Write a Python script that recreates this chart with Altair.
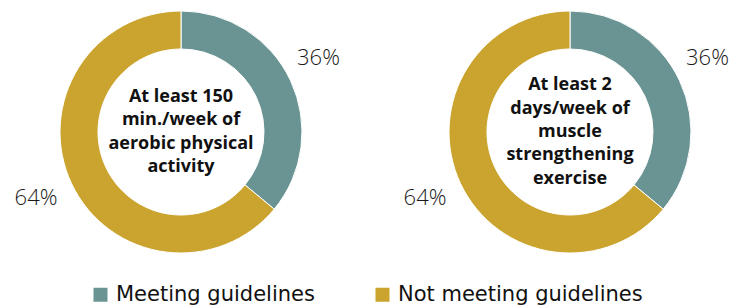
import altair as alt
import pandas as pd

categories = ["Meeting guidelines", "Not meeting guidelines"]
aerobic_values = [36, 64]
muscle_values = [36, 64]
panels = ["aerobic", "muscle"]
center_labels = [
    "At least 150\nmin./week of\naerobic physical\nactivity",
    "At least 2\ndays/week of\nmuscle\nstrengthening\nexercise",
]
colors = ["#6a9493", "#caa42e"]

rows = []
for panel, vals in zip(panels, [aerobic_values, muscle_values]):
    for i, (c, v) in enumerate(zip(categories, vals)):
        rows.append({"panel": panel, "category": c, "value": v, "order": i, "label": f"{v}%"})
df = pd.DataFrame(rows)
centers_df = pd.DataFrame({"panel": panels, "text": center_labels})

centers = {"aerobic": (173, 124), "muscle": (562, 124)}
LINE_H = 23.3
label_shift = {0: (-5.5, -7), 1: (-2, -1.5)}

color = alt.Color(
    "category:N",
    scale=alt.Scale(domain=categories, range=colors),
    legend=alt.Legend(
        title=None,
        orient="none",
        legendX=82,
        legendY=276,
        direction="horizontal",
        symbolType="square",
        symbolSize=196,
        symbolStrokeWidth=0,
        symbolOpacity=1,
        labelFontSize=21,
        labelFont="DejaVu Sans",
        labelColor="#111111",
        labelOffset=5,
        labelLimit=400,
        columnPadding=57,
        padding=0,
    ),
)

layers = []
for p, txt in zip(panels, center_labels):
    cx, cy = centers[p]
    n_lines = txt.count("\n") + 1
    base = alt.Chart(df).transform_filter(alt.datum.panel == p)
    arc = base.mark_arc(outerRadius=121, innerRadius=83, stroke="white", strokeWidth=1).encode(
        theta=alt.Theta("value:Q", stack=True),
        color=color,
        order=alt.Order("order:Q"),
        x=alt.value(cx),
        y=alt.value(cy),
    )
    layers.append(arc)
    for k, (ddx, ddy) in label_shift.items():
        lab = base.transform_joinaggregate(total="sum(value)").transform_window(
            cum="sum(value)", sort=[alt.SortField("order")]
        ).transform_calculate(
            mid=(alt.datum.cum - alt.datum.value / 2) / alt.datum.total * 2 * 3.141592653589793
        ).transform_filter(alt.datum.order == k).mark_text(
            radius=158, fontSize=22, font="Open Sans", fontWeight=300,
            color="#1a1a1a", dx=ddx, dy=ddy,
        ).encode(
            theta=alt.Theta("mid:Q", scale=None),
            text="label:N",
            x=alt.value(cx),
            y=alt.value(cy),
        )
        layers.append(lab)
    center = alt.Chart(centers_df).transform_filter(alt.datum.panel == p).mark_text(
        lineBreak="\n", fontSize=18, font="Open Sans", fontWeight="bold",
        lineHeight=LINE_H, align="center", baseline="middle", color="#111111",
        dy=-(n_lines - 1) * LINE_H / 2,
    ).encode(text="text:N", x=alt.value(cx), y=alt.value(cy))
    layers.append(center)

chart = alt.layer(*layers).resolve_scale(theta="independent").properties(
    width=721, height=299, padding=0,
    autosize=alt.AutoSizeParams(type="none"),
).configure_view(stroke=None)

chart.save("out.html", embed_options={"renderer": "svg", "actions": False})
